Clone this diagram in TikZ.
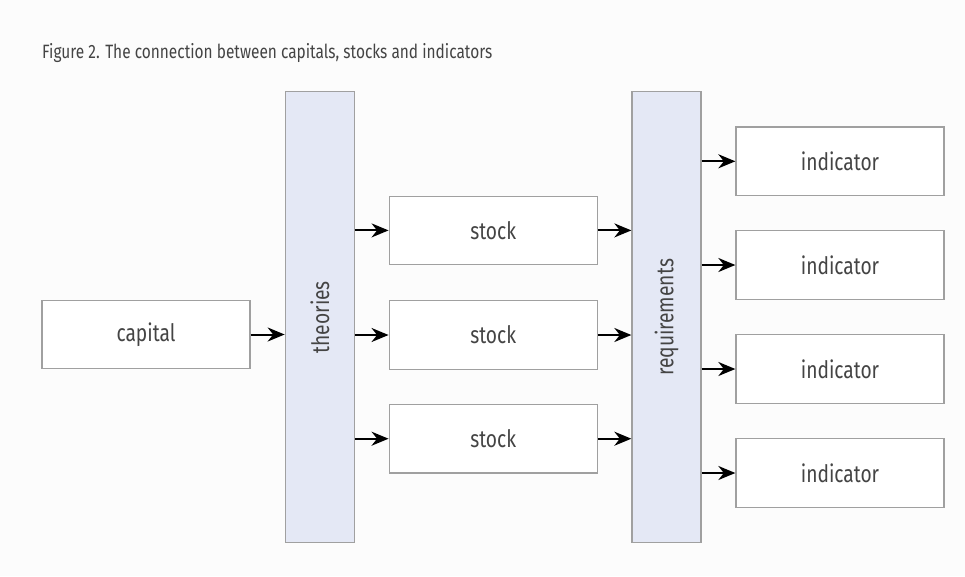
\documentclass[tikz,border=0pt]{standalone}
\usepackage{fontspec}
\setmainfont{Fira Sans}[FakeStretch=0.8]
\usetikzlibrary{arrows.meta}
\definecolor{bgc}{HTML}{FCFCFC}
\definecolor{edgec}{HTML}{A0A0A0}
\definecolor{barfill}{HTML}{E4E8F5}
\definecolor{txtc}{HTML}{444444}
\tikzset{
  box/.style={draw=edgec, line width=1.3pt, fill=white, minimum width=208pt, minimum height=68.5pt, inner sep=0pt, text=txtc, font=\fontsize{24}{27}\selectfont},
  bar/.style={draw=edgec, line width=1.3pt, fill=barfill, minimum width=69pt, minimum height=451pt, inner sep=0pt},
  barlabel/.style={rotate=90, text=txtc, font=\fontsize{24}{27}\selectfont, inner sep=0pt},
  conn/.style={line width=2pt, -{Stealth[length=17pt, width=14pt, inset=5.5pt]}}
}
\begin{document}
\begin{tikzpicture}[x=1pt, y=-1pt]
\fill[bgc] (0,0) rectangle (965,576);
\useasboundingbox (0,0) rectangle (965,576);
\node[anchor=base west, text=txtc, font=\fontsize{19.3}{22}\selectfont, inner sep=0pt] (title) at (42,58) {Figure 2. The connection between capitals, stocks and indicators};
\node[box] (cap) at (146,334.5) {capital};
\node[bar] (th) at (319.8,317.2) {};
\node[barlabel] (thl) at (th.center) {theories};
\node[bar] (rq) at (666.5,317.3) {};
\node[barlabel] (rql) at (rq.center) {requirements};
\node[box] (s1) at (493.2,230.4) {stock};
\node[box] (s2) at (493.2,335) {stock};
\node[box] (s3) at (493.2,438.7) {stock};
\node[box] (i1) at (840,161.3) {indicator};
\node[box] (i2) at (840,265) {indicator};
\node[box] (i3) at (840,369) {indicator};
\node[box] (i4) at (840,473) {indicator};
\draw[conn] (cap.east) -- (cap.east -| th.west);
\foreach \s in {s1,s2,s3}{
  \draw[conn] (\s.west -| th.east) -- (\s.west);
  \draw[conn] (\s.east) -- (\s.east -| rq.west);
}
\foreach \i in {i1,i2,i3,i4}{
  \draw[conn] (\i.west -| rq.east) -- (\i.west);
}
\end{tikzpicture}
\end{document}
